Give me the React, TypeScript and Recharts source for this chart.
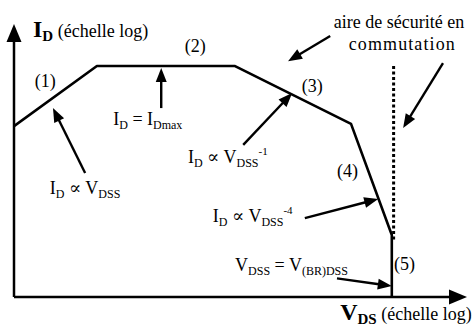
import React from 'react';
import { ComposedChart, Line, XAxis, YAxis, ReferenceLine, ReferenceDot } from 'recharts';

// Schematic safe operating area (log-log, arbitrary units 0..100 along each axis)
const soaVds = [0, 18.3, 48.8, 74.4, 83.4, 83.4];
const soaId = [62.6, 84.6, 84.6, 63.4, 22.7, 0];
const switchVds = [83.8, 83.8];
const switchId = [84.6, 20.5];

// annotation arrows: tail -> tip (same units)
const arrowTailX = [15.7, 32.5, 50.6, 69.8, 94.7, 64.2, 71.3];
const arrowTailY = [45.4, 69.2, 55.7, 95.6, 85.7, 28.9, 6.8];
const arrowTipX = [8.6, 32.5, 61.4, 60.5, 85.9, 80.4, 83.4];
const arrowTipY = [69.2, 83.9, 74.7, 86.4, 61.9, 35.9, 4.0];

// axes (with arrowheads)
const axisFrom = [{ x: 0, y: 0 }, { x: 0, y: 0 }];
const axisTo = [{ x: 0, y: 100 }, { x: 100, y: 0 }];

type Part = [string, string];
// text labels: anchor (left, baseline) and rich text parts
const labelX = [4.2, 4.6, 37.7, 63.5, 71.3, 83.9, 21.9, 7.9, 38.4, 43.9, 48.8, 72.0, 70.6, 73.9];
const labelY = [95.2, 76.9, 89.7, 75.1, 44.0, 9.9, 63.0, 37.7, 49.1, 27.5, 9.5, -8.4, 98.7, 90.5];
const labelParts: Part[][] = [
  [['I', 'b'], ['D', 'bsub'], [' (échelle log)', 'n']],
  [['(1)', 'n']],
  [['(2)', 'n']],
  [['(3)', 'n']],
  [['(4)', 'n']],
  [['(5)', 'n']],
  [['I', 'n'], ['D', 'sub'], [' = I', 'n'], ['Dmax', 'sub']],
  [['I', 'n'], ['D', 'sub'], [' ∝ V', 'n'], ['DSS', 'sub']],
  [['I', 'n'], ['D', 'sub'], [' ∝ V', 'n'], ['DSS', 'sub'], ['-1', 'sup']],
  [['I', 'n'], ['D', 'sub'], [' ∝ V', 'n'], ['DSS', 'sub'], ['-4', 'sup']],
  [['V', 'n'], ['DSS', 'sub'], [' = V', 'n'], ['(BR)DSS', 'sub']],
  [['V', 'b'], ['DS', 'bsub'], [' (échelle log)', 'n']],
  [['aire de sécurité en', 'n']],
  [['commutation', 'wide']],
];

const curveData = soaVds.map((x, i) => ({ x, y: soaId[i] }));
const switchData = switchVds.map((x, i) => ({ x, y: switchId[i] }));

const FONT = "'Liberation Serif', Tinos, 'Times New Roman', Times, 'DejaVu Serif', serif";

const makeArrow = (head: number, half: number, sw: number) => (p: any) => {
  const { x1, y1, x2, y2 } = p;
  const dx = x2 - x1;
  const dy = y2 - y1;
  const len = Math.hypot(dx, dy) || 1;
  const ux = dx / len;
  const uy = dy / len;
  const bx = x2 - ux * head;
  const by = y2 - uy * head;
  const nx = -uy * half;
  const ny = ux * half;
  return (
    <g>
      <line x1={x1} y1={y1} x2={bx + ux} y2={by + uy} stroke="#000" strokeWidth={sw} />
      <polygon points={`${x2},${y2} ${bx + nx},${by + ny} ${bx - nx},${by - ny}`} fill="#000" />
    </g>
  );
};

const renderRich = (parts: Part[]) => {
  let offset = 0;
  return parts.map(([t, k], i) => {
    let target = 0;
    let size = 18;
    let weight: any = 'normal';
    let ls = 0;
    if (k === 'sub') { target = 4; size = 12; }
    if (k === 'sup') { target = -8; size = 11; }
    if (k === 'b') { size = 24; weight = 'bold'; }
    if (k === 'bsub') { target = 4; size = 15; weight = 'bold'; }
    if (k === 'wide') { ls = 1.1; }
    const dy = target - offset;
    offset = target;
    return (
      <tspan
        key={i}
        dy={dy}
        style={{ fontFamily: FONT, fontSize: size, fontWeight: weight, letterSpacing: ls }}
      >
        {t}
      </tspan>
    );
  });
};

const makeLabel = (parts: Part[]) => (p: any) => (
  <text x={p.cx} y={p.cy} fill="#000" style={{ fontFamily: FONT, whiteSpace: 'pre' }}>
    {renderRich(parts)}
  </text>
);

export default function App() {
  return (
    <div
      style={{
        position: 'absolute',
        left: 0,
        top: 0,
        width: 472,
        height: 328,
        background: '#fff',
        fontFamily: FONT,
      }}
    >
      <ComposedChart
        width={472}
        height={328}
        data={curveData}
        margin={{ top: 24, right: 5, bottom: 31, left: 14 }}
      >
        <XAxis type="number" dataKey="x" domain={[0, 100]} hide allowDataOverflow />
        <YAxis type="number" domain={[0, 100]} hide allowDataOverflow />
        {axisFrom.map((a, i) => (
          <ReferenceLine
            key={'ax' + i}
            segment={[a, axisTo[i]]}
            ifOverflow="visible"
            shape={makeArrow(18, 7.5, 2.5)}
          />
        ))}
        <Line
          dataKey="y"
          type="linear"
          stroke="#000"
          strokeWidth={2.6}
          strokeLinejoin="round"
          dot={false}
          activeDot={false}
          isAnimationActive={false}
        />
        <Line
          data={switchData}
          dataKey="y"
          type="linear"
          stroke="#000"
          strokeWidth={3}
          strokeDasharray="3 2.5"
          dot={false}
          activeDot={false}
          isAnimationActive={false}
        />
        {arrowTailX.map((x, i) => (
          <ReferenceLine
            key={'ar' + i}
            segment={[{ x, y: arrowTailY[i] }, { x: arrowTipX[i], y: arrowTipY[i] }]}
            ifOverflow="visible"
            shape={makeArrow(14, 5.5, 2.4)}
          />
        ))}
        {labelX.map((x, i) => (
          <ReferenceDot
            key={'lb' + i}
            x={x}
            y={labelY[i]}
            r={0}
            ifOverflow="visible"
            shape={makeLabel(labelParts[i])}
          />
        ))}
      </ComposedChart>
    </div>
  );
}
